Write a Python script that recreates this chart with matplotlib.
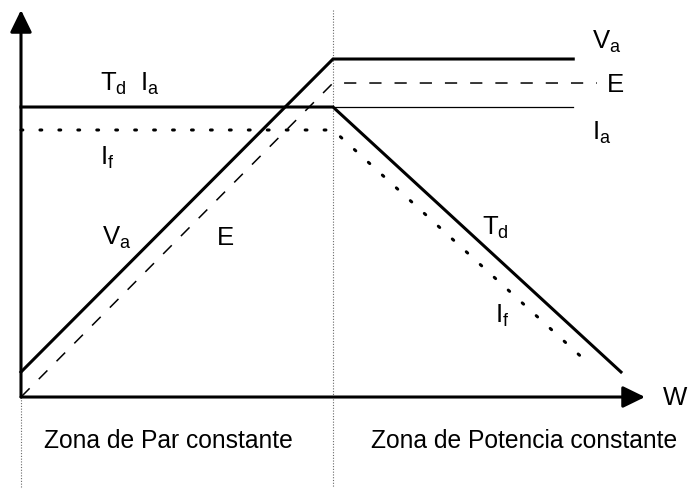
import matplotlib
matplotlib.use("Agg")
import matplotlib.pyplot as plt

plt.rcParams['font.family'] = ['Liberation Sans', 'DejaVu Sans']

# speed in per-unit of base speed, magnitudes in per-unit of rated Va
w_axis_end = 2.0
y_axis_end = 1.145
w_base = 1.0

# armature voltage Va
va_w = [0.0, 1.0, 1.77]
va_v = [0.074, 1.0, 1.0]
# back emf E
e_w = [0.0, 1.0, 1.846]
e_v = [0.0, 0.929, 0.929]
# torque Td (falls in constant-power zone)
td_w = [0.0, 1.0, 1.923]
td_v = [0.858, 0.858, 0.074]
# armature current Ia stays constant
ia_w = [1.0, 1.77]
ia_v = [0.858, 0.858]
# field current If
if_w = [0.0, 1.0, 1.824]
if_v = [0.79, 0.79, 0.095]

zone_labels = ["Zona de Par constante", "Zona de Potencia constante"]

fig = plt.figure(figsize=(6.88, 4.88), dpi=100)
ax = fig.add_axes([0, 0, 1, 1])
ax.set_xlim(-0.0673, 2.1378)
ax.set_ylim(-0.2692, 1.1746)
ax.axis('off')

# axes with arrows
arrow = dict(arrowstyle='-|>,head_length=0.45,head_width=0.22', mutation_scale=30,
             lw=2.2, color='black', shrinkA=0, shrinkB=0)
ax.annotate('', xy=(w_axis_end, 0), xytext=(0, 0), arrowprops=arrow)
ax.annotate('', xy=(0, y_axis_end), xytext=(0, 0), arrowprops=arrow)

# zone separators
ax.plot([w_base, w_base], [y_axis_end, -0.27], color='dimgrey', ls=(0, (1, 1.5)), lw=0.8)
ax.plot([0, 0], [0, -0.27], color='dimgrey', ls=(0, (1, 1.5)), lw=0.8)

# curves
ax.plot(va_w, va_v, color='black', lw=2.2, solid_joinstyle='miter')
ax.plot(e_w, e_v, color='black', lw=1.1, ls=(0, (8, 8.5)))
ax.plot(td_w, td_v, color='black', lw=2.2, solid_joinstyle='miter')
ax.plot(ia_w, ia_v, color='black', lw=0.9)
ax.plot(if_w, if_v, color='black', lw=2.2, ls=(0, (0.6, 5.6)), dash_capstyle='round')

fs = 18.5
def lab(x, y, s):
    ax.text(x, y, s, fontsize=fs, ha='left', va='baseline')

lab(0.253, 0.905, r'$\mathregular{T_d}$')
lab(0.381, 0.905, r'$\mathregular{I_a}$')
lab(0.253, 0.686, r'$\mathregular{I_f}$')
lab(0.26, 0.450, r'$\mathregular{V_a}$')
lab(0.628, 0.450, 'E')
lab(1.478, 0.479, r'$\mathregular{T_d}$')
lab(1.519, 0.219, r'$\mathregular{I_f}$')
lab(1.878, 0.902, 'E')
lab(1.83, 1.03, r'$\mathregular{V_a}$')
lab(1.83, 0.760, r'$\mathregular{I_a}$')
lab(2.058, -0.024, 'W')

ax.text(0.471, -0.130, zone_labels[0], fontsize=17.7, ha='center', va='center')
ax.text(1.612, -0.130, zone_labels[1], fontsize=17.7, ha='center', va='center')

fig.savefig('out.png', dpi=100)
